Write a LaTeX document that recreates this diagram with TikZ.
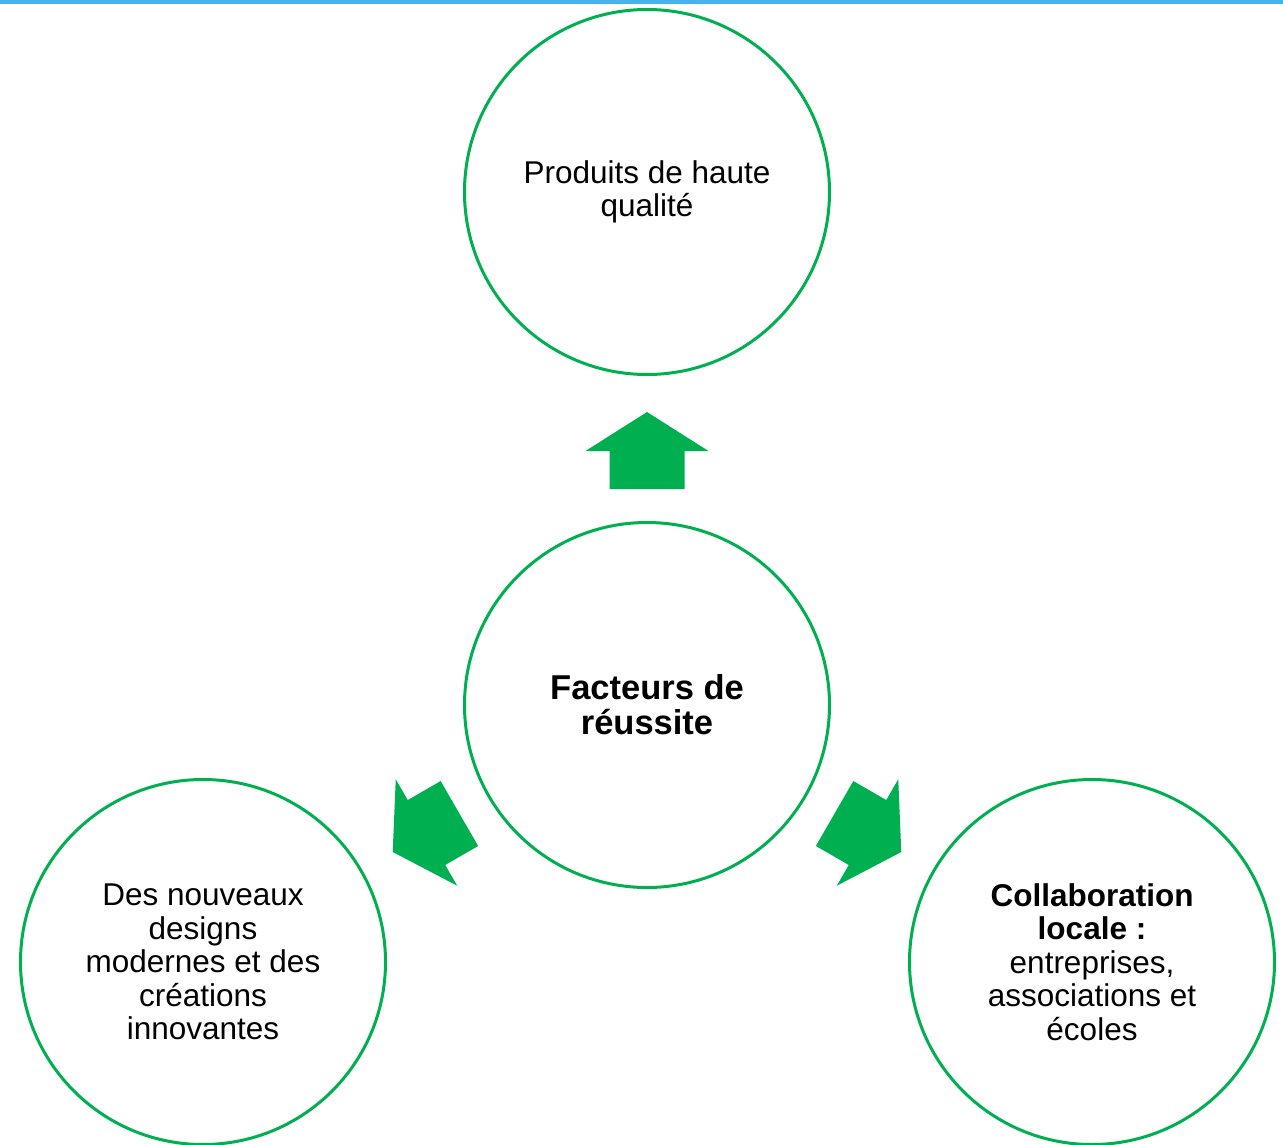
\documentclass[tikz,border=0pt]{standalone}
\usepackage{fontspec}
\setmainfont{Liberation Sans}
\definecolor{cgreen}{RGB}{0,176,80}
\definecolor{cblue}{RGB}{71,180,236}
\begin{document}
\begin{tikzpicture}[x=1pt,y=-1pt,
  bubble/.style={circle,draw=cgreen,line width=3pt,minimum size=365pt,inner sep=0pt,align=center,
    font=\fontsize{31.5}{33.5}\selectfont},
  bigbubble/.style={bubble,font=\fontsize{34.5}{35}\selectfont\bfseries},
  blockarrow/.style={fill=cgreen,draw=none}]
\useasboundingbox (0,0) rectangle (1283,1144);
\fill[cblue] (0,0) rectangle (1283,4);
\node[bubble] (top) at (647,192) {Produits de haute\\qualité};
\node[bigbubble] (mid) at (647,705) {Facteurs de\\réussite};
\node[bubble] (left) at (203,962) {Des nouveaux\\designs\\modernes et des\\créations\\innovantes};
\node[bubble] (right) at (1092,962) {\textbf{Collaboration}\\\textbf{locale :}\\entreprises,\\associations et\\écoles};
\foreach \pos/\ang in {{(647,451)}/0,{(426.5,832.5)}/120,{(867.5,832.5)}/-120}{
  \fill[blockarrow,shift={\pos},rotate=\ang]
    (0,-39) -- (61.5,0) -- (37.5,0) -- (37.5,38) -- (-37.5,38) -- (-37.5,0) -- (-61.5,0) -- cycle;
}
\end{tikzpicture}
\end{document}
